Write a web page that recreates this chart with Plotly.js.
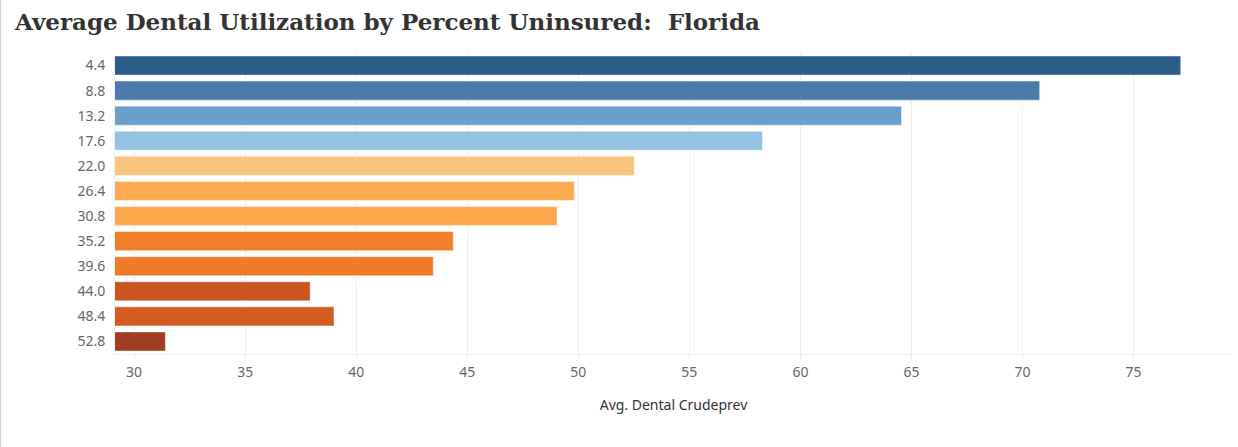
<!DOCTYPE html>
<html>
<head>
<meta charset="utf-8">
<script src="https://cdn.plot.ly/plotly-3.0.1.min.js"></script>
<style>
html,body{margin:0;padding:0;background:#fff;}
#chart{width:1238px;height:447px;box-sizing:border-box;border-left:1px solid #d4d4d4;}
</style>
</head>
<body>
<div id="chart"></div>
<script>
const categories = ["4.4","8.8","13.2","17.6","22.0","26.4","30.8","35.2","39.6","44.0","48.4","52.8"];
const values = [77.12, 70.77, 64.55, 58.29, 52.52, 49.82, 49.04, 44.37, 43.47, 37.93, 39.0, 31.41];
const colors = ["#2c5d8a","#4a7bab","#6a9fcb","#92c4e1","#f9c47e","#fdab50","#fca84e","#f07f2a","#ef7a28","#cb5521","#d45b22","#a13e22"];
const xTicks = [30,35,40,45,50,55,60,65,70,75];

const trace = {
  type: 'bar',
  orientation: 'h',
  y: categories,
  x: values,
  marker: {color: colors, line: {color: 'rgba(255,255,255,0.45)', width: 1}},
  hoverinfo: 'x+y'
};

const layout = {
  width: 1237,
  height: 447,
  margin: {l: 114, r: 6, t: 53, b: 93},
  paper_bgcolor: '#fff',
  plot_bgcolor: '#fff',
  bargap: 0.24,
  showlegend: false,
  title: {
    text: 'Average Dental Utilization by Percent Uninsured:\u00a0 Florida',
    x: 14/1237, xanchor: 'left', xref: 'container',
    y: 1 - 22/447, yanchor: 'middle', yref: 'container',
    font: {family: 'DejaVu Serif, serif', size: 23, color: '#333', weight: 'bold'}
  },
  xaxis: {
    range: [29.14, 79.43],
    tickvals: xTicks,
    ticktext: xTicks.map(String),
    showgrid: true, gridcolor: '#f0f0f0', gridwidth: 1,
    zeroline: false,
    showline: true, linecolor: '#eeeeee', linewidth: 1,
    ticks: 'outside', ticklen: 5, tickcolor: '#eeeeee',
    tickfont: {family: 'Noto Sans, sans-serif', size: 14, color: '#666'},
    title: {text: 'Avg. Dental Crudeprev', standoff: 20,
      font: {family: 'Noto Sans, sans-serif', size: 14, color: '#333'}},
    fixedrange: true
  },
  yaxis: {
    type: 'category',
    categoryorder: 'array',
    categoryarray: categories,
    autorange: 'reversed',
    showgrid: false,
    zeroline: false,
    showline: true, linecolor: '#f0f0f0', linewidth: 1,
    ticks: '', ticklabelstandoff: 6,
    tickfont: {family: 'Noto Sans, sans-serif', size: 14, color: '#666'},
    fixedrange: true
  }
};

Plotly.newPlot('chart', [trace], layout, {displayModeBar: false, staticPlot: true});
</script>
</body>
</html>
